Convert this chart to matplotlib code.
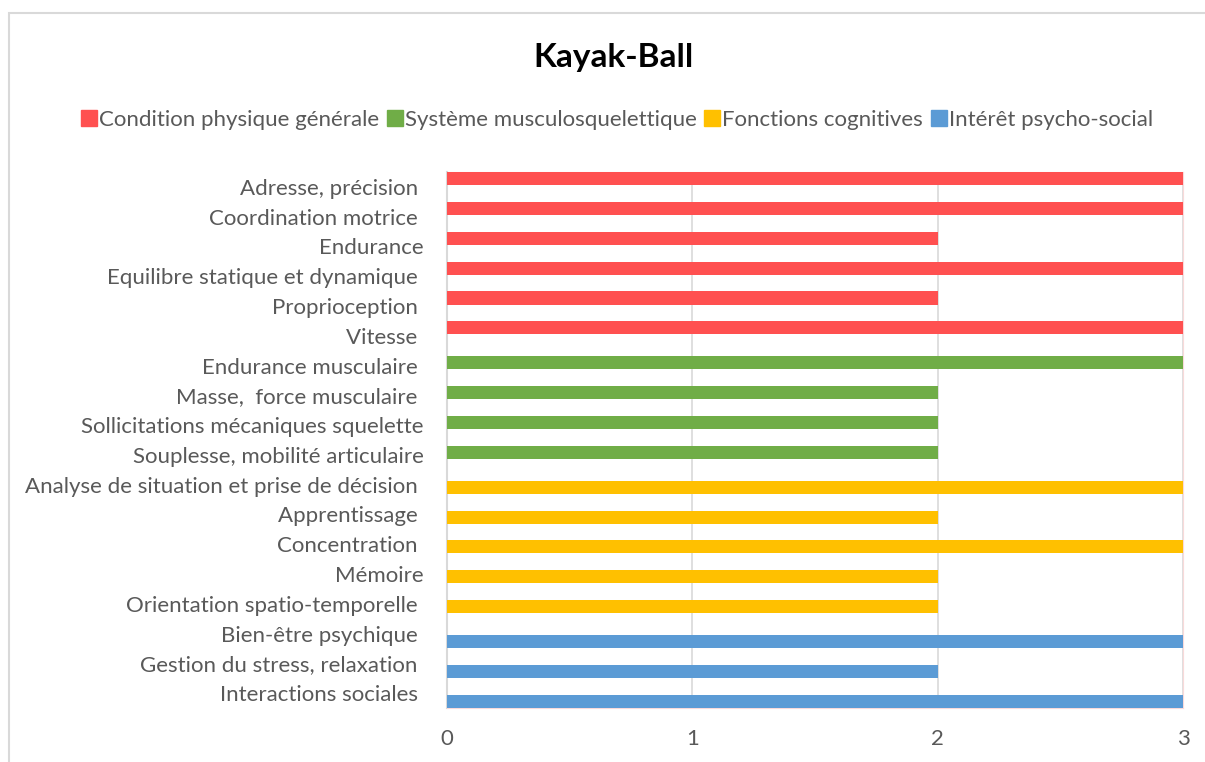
import matplotlib.pyplot as plt
from matplotlib.patches import Rectangle
from matplotlib.lines import Line2D

# Données du graphique
categories = [
    "Adresse, précision ", "Coordination motrice ", "Endurance",
    "Equilibre statique et dynamique ", "Proprioception ", "Vitesse ",
    "Endurance musculaire ", "Masse,  force musculaire ",
    "Sollicitations mécaniques squelette", "Souplesse, mobilité articulaire",
    "Analyse de situation et prise de décision ", "Apprentissage ",
    "Concentration ", "Mémoire", "Orientation spatio-temporelle ",
    "Bien-être psychique ", "Gestion du stress, relaxation ", "Interactions sociales ",
]
series_names = ["Condition physique générale", "Système musculosquelettique",
                "Fonctions cognitives", "Intérêt psycho-social"]
condition_physique = [3, 3, 2, 3, 2, 3, 0, 0, 0, 0, 0, 0, 0, 0, 0, 0, 0, 0]
musculo = [0, 0, 0, 0, 0, 0, 3, 2, 2, 2, 0, 0, 0, 0, 0, 0, 0, 0]
cognitives = [0, 0, 0, 0, 0, 0, 0, 0, 0, 0, 3, 2, 3, 2, 2, 0, 0, 0]
psycho_social = [0, 0, 0, 0, 0, 0, 0, 0, 0, 0, 0, 0, 0, 0, 0, 3, 2, 3]

colors = ["#FF5050", "#70AD47", "#FFC000", "#5B9BD5"]
offsets = [-0.27, -0.09, 0.09, 0.27]
txt = "#595959"
fs = 16

plt.rcParams['font.family'] = ['Lato', 'DejaVu Sans']

fig = plt.figure(figsize=(12.05, 7.62), dpi=100)
# cadre du graphique (coupé à droite et en bas)
fig.patches.append(Rectangle((9 / 1205, -0.5), 1.5, 1 - 13 / 762 + 0.5,
                             transform=fig.transFigure, fill=False,
                             edgecolor="#D9D9D9", linewidth=1.5))

ax = fig.add_axes([447 / 1205, 1 - 708 / 762, 736 / 1205, 536 / 762])

pos = list(range(len(categories)))
for vals, col, off in zip([condition_physique, musculo, cognitives, psycho_social],
                          colors, offsets):
    ys = [p + off for p, v in zip(pos, vals) if v > 0]
    ws = [v for v in vals if v > 0]
    ax.barh(ys, ws, height=0.44, color=col, zorder=3)

ax.set_xlim(0, 3)
ax.set_ylim(len(categories) - 0.5, -0.5)
ax.set_yticks(pos)
ax.set_yticklabels(categories, fontsize=fs, color=txt)
ax.set_xticks([0, 1, 2, 3])
ax.set_xticklabels(["0", "1", "2", "3"], fontsize=fs, color=txt)
ax.tick_params(axis='y', length=0, pad=17)
ax.tick_params(axis='x', length=0, pad=15)
ax.grid(axis='x', color="#D9D9D9", linewidth=1.2, zorder=0)
for s in ["top", "right", "bottom"]:
    ax.spines[s].set_color("#F9DADA")
ax.spines["left"].set_color("#D9D9D9")
ax.spines["left"].set_linewidth(1.5)

fig.text(614 / 1205, 1 - 57 / 762, "Kayak-Ball", ha='center', va='center',
         fontsize=24, fontweight='bold', color='black')

handles = [Line2D([], [], marker='s', linestyle='none', markersize=12,
                  markerfacecolor=c, markeredgecolor=c) for c in colors]
fig.legend(handles, series_names, loc='center', bbox_to_anchor=(617 / 1205, 1 - 120 / 762),
           ncol=4, frameon=False, fontsize=fs, labelcolor=txt,
           handlelength=0.7, handletextpad=0.1, columnspacing=0.35)

fig.savefig("out.png", dpi=100)
